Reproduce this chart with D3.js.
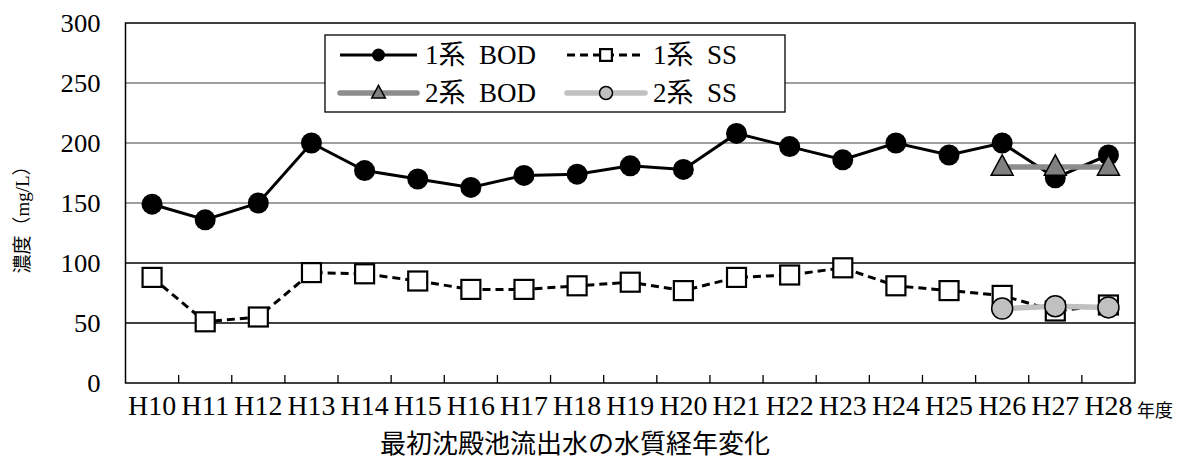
<!DOCTYPE html>
<html>
<head>
<meta charset="utf-8">
<script src="https://cdn.jsdelivr.net/npm/d3@7"></script>
<style>
  html, body { margin: 0; padding: 0; background: #fff; }
  svg { display: block; }
  text { white-space: pre; fill: #000; }
  .latin { font-family: "Liberation Serif", "Times New Roman", serif; }
  .cjk { font-family: "Noto Sans CJK JP", "Noto Sans CJK SC", sans-serif; }
  .mixed { font-family: "Liberation Serif", "Noto Sans CJK JP", serif; }
</style>
</head>
<body>
<svg id="chart" width="1181" height="470"></svg>
<script>
// 年度ごとの最初沈殿池流出水の水質（mg/L）
const years = ["H10","H11","H12","H13","H14","H15","H16","H17","H18","H19","H20","H21","H22","H23","H24","H25","H26","H27","H28"];
const bod1 = [149,136,150,200,177,170,163,173,174,181,178,208,197,186,200,190,200,171,190];
const ss1  = [88,51,55,92,91,85,78,78,81,84,77,88,90,96,81,77,73,60,65];
const bod2 = [null,null,null,null,null,null,null,null,null,null,null,null,null,null,null,null,180,180,180];
const ss2  = [null,null,null,null,null,null,null,null,null,null,null,null,null,null,null,null,62,64,63];
const yTicks = [0,50,100,150,200,250,300];
const grayGrid = [150,200,250];

const svg = d3.select("#chart");
const plot = { left: 125.5, right: 1135, top: 23, bottom: 383 };

const x = d3.scaleBand().domain(years).range([plot.left, plot.right]).padding(0);
const y = d3.scaleLinear().domain([0, 300]).range([plot.bottom, plot.top]);
const cx = d => x(d) + x.bandwidth() / 2;

// グリッド線
svg.append("g").selectAll("line")
  .data(yTicks.filter(v => v > 0 && v < 300))
  .join("line")
  .attr("x1", plot.left).attr("x2", plot.right)
  .attr("y1", d => y(d)).attr("y2", d => y(d))
  .attr("stroke", d => grayGrid.includes(d) ? "#7f7f7f" : "#000")
  .attr("stroke-width", 1.3);

// 枠
svg.append("rect")
  .attr("x", plot.left).attr("y", plot.top)
  .attr("width", plot.right - plot.left).attr("height", plot.bottom - plot.top)
  .attr("fill", "none").attr("stroke", "#000").attr("stroke-width", 1.5);

// 縦軸
const yAxis = d3.axisLeft(y).tickValues(yTicks).tickSize(0).tickPadding(25);
const gy = svg.append("g").attr("transform", `translate(${plot.left},0)`).call(yAxis);
gy.attr("font-family", null).attr("font-size", null);
gy.select(".domain").remove();
gy.selectAll("text").attr("class", "latin").style("font-size", "26px")
  .attr("textLength", d => String(d).length * 13.3).attr("lengthAdjust", "spacingAndGlyphs");

// 横軸（区切り目盛は内向き）
svg.append("g").selectAll("line")
  .data(years.slice(1))
  .join("line")
  .attr("x1", d => x(d)).attr("x2", d => x(d))
  .attr("y1", plot.bottom - 8).attr("y2", plot.bottom)
  .attr("stroke", "#000").attr("stroke-width", 1.3);

const xAxis = d3.axisBottom(x).tickSize(0).tickPadding(13);
const gx = svg.append("g").attr("transform", `translate(0,${plot.bottom})`).call(xAxis);
gx.attr("font-family", null).attr("font-size", null);
gx.select(".domain").remove();
gx.selectAll("text").attr("class", "latin").style("font-size", "27px")
  .attr("textLength", 48).attr("lengthAdjust", "spacingAndGlyphs");

svg.append("text")
  .attr("class", "cjk")
  .attr("x", 1137).attr("y", 417)
  .style("font-size", "18px")
  .text("年度");

// 縦軸タイトル
svg.append("text")
  .attr("class", "mixed")
  .attr("transform", "translate(29,215) rotate(-90)")
  .attr("text-anchor", "middle")
  .style("font-size", "19px")
  .text("濃度（mg/L）");

// 図題
svg.append("text")
  .attr("class", "cjk")
  .attr("x", 575).attr("y", 453)
  .attr("text-anchor", "middle")
  .style("font-size", "26px")
  .text("最初沈殿池流出水の水質経年変化");

// 系列
const series = [
  { name: "1系  BOD", values: bod1, color: "#000", width: 3, dash: null, marker: "circle", fill: "#000", size: 10.5 },
  { name: "1系  SS", values: ss1, color: "#000", width: 3, dash: "8,5", marker: "square", fill: "#fff", size: 9.5 },
  { name: "2系  BOD", values: bod2, color: "#8c8c8c", width: 5.5, dash: null, marker: "triangle", fill: "#808080", size: 11 },
  { name: "2系  SS", values: ss2, color: "#c0c0c0", width: 5.5, dash: null, marker: "circle", fill: "#c0c0c0", size: 10.5 }
];

const line = d3.line()
  .defined(d => d.v !== null)
  .x(d => cx(d.year))
  .y(d => y(d.v));

function drawMarker(g, s, px, py, scale) {
  const r = s.size * scale;
  if (s.marker === "circle") {
    g.append("circle").attr("cx", px).attr("cy", py).attr("r", r)
      .attr("fill", s.fill).attr("stroke", "#000").attr("stroke-width", s.fill === "#000" ? 0 : 1.5);
  } else if (s.marker === "square") {
    g.append("rect").attr("x", px - r).attr("y", py - r).attr("width", 2 * r).attr("height", 2 * r)
      .attr("fill", s.fill).attr("stroke", "#000").attr("stroke-width", 2.2);
  } else {
    const h = r * 1.85;
    g.append("path")
      .attr("d", `M${px},${py - h * 0.6}L${px + r},${py + h * 0.4}L${px - r},${py + h * 0.4}Z`)
      .attr("fill", s.fill).attr("stroke", "#000").attr("stroke-width", 1.5);
  }
}

const gSeries = svg.append("g");
series.forEach(s => {
  const g = gSeries.append("g");
  const pts = years.map((yr, i) => ({ year: yr, v: s.values[i] }));
  g.append("path").datum(pts)
    .attr("d", line)
    .attr("fill", "none")
    .attr("stroke", s.color)
    .attr("stroke-width", s.width)
    .attr("stroke-dasharray", s.dash);
  pts.filter(p => p.v !== null).forEach(p => drawMarker(g, s, cx(p.year), y(p.v), 1));
});

// 凡例
const lg = svg.append("g");
lg.append("rect").attr("x", 325).attr("y", 35).attr("width", 460).attr("height", 77)
  .attr("fill", "#fff").attr("stroke", "#000").attr("stroke-width", 1.3);
const legendPos = [
  { x0: 340, x1: 417, ty: 55, tx: 425 },
  { x0: 567, x1: 645, ty: 55, tx: 653 },
  { x0: 340, x1: 417, ty: 93, tx: 425 },
  { x0: 567, x1: 645, ty: 93, tx: 653 }
];
series.forEach((s, i) => {
  const p = legendPos[i];
  lg.append("line").attr("x1", p.x0).attr("x2", p.x1).attr("y1", p.ty).attr("y2", p.ty)
    .attr("stroke", s.color).attr("stroke-width", s.width).attr("stroke-dasharray", s.dash)
    .attr("stroke-linecap", s.width > 4 ? "round" : "butt");
  drawMarker(lg, s, (p.x0 + p.x1) / 2, p.ty, 0.62);
  lg.append("text").attr("class", "mixed")
    .attr("x", p.tx).attr("y", p.ty).attr("dy", "0.35em")
    .style("font-size", "27px")
    .text(s.name);
});
</script>
</body>
</html>
